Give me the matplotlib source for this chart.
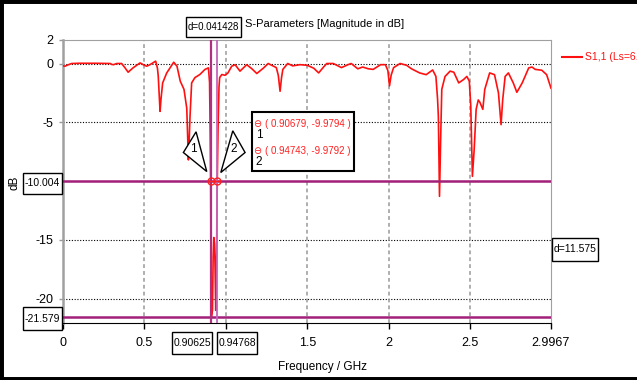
import numpy as np
import matplotlib.pyplot as plt
from matplotlib.patches import Polygon, Rectangle
from matplotlib.transforms import ScaledTranslation

plt.rcParams['font.family'] = ['Liberation Sans', 'DejaVu Sans']

# S1,1 trace (GHz, dB)
freq = [0.000, 0.012, 0.030, 0.053, 0.100, 0.200, 0.290, 0.300, 0.310, 0.330,
        0.360, 0.380, 0.400, 0.430, 0.473, 0.500, 0.514, 0.534, 0.569, 0.580,
        0.585, 0.592, 0.596, 0.602, 0.612, 0.637, 0.657, 0.680, 0.700, 0.720,
        0.743, 0.760, 0.765, 0.770, 0.775, 0.780, 0.790, 0.810, 0.840, 0.872,
        0.893, 0.900, 0.904, 0.9068, 0.9085, 0.911, 0.918, 0.922, 0.926, 0.930,
        0.933, 0.938, 0.943, 0.9474, 0.952, 0.958, 0.962, 0.975, 0.995, 1.013,
        1.036, 1.057, 1.087, 1.128, 1.160, 1.190, 1.230, 1.260, 1.310, 1.322,
        1.333, 1.342, 1.350, 1.380, 1.410, 1.455, 1.500, 1.540, 1.570, 1.600,
        1.620, 1.660, 1.710, 1.750, 1.770, 1.810, 1.840, 1.875, 1.905, 1.950,
        1.980, 1.995, 2.005, 2.015, 2.030, 2.070, 2.110, 2.140, 2.190, 2.230,
        2.270, 2.290, 2.300, 2.305, 2.312, 2.319, 2.326, 2.346, 2.377, 2.400,
        2.430, 2.460, 2.480, 2.495, 2.504, 2.514, 2.525, 2.537, 2.550, 2.560,
        2.578, 2.590, 2.620, 2.650, 2.674, 2.690, 2.700, 2.715, 2.735, 2.765,
        2.787, 2.820, 2.860, 2.880, 2.900, 2.940, 2.970, 2.9967]
s11 = [-0.20, -0.23, -0.12, 0.00, 0.02, 0.02, 0.00, -0.08, -0.10, 0.00,
       0.00, -0.35, -0.74, -0.37, 0.05, -0.15, -0.23, -0.10, 0.20, -0.40,
       -1.10, -3.00, -4.07, -3.00, -1.65, -0.80, -0.37, 0.11, -0.23, -1.50,
       -2.20, -3.80, -6.00, -8.20, -6.50, -4.50, -1.65, -1.20, -0.94, -0.50,
       -0.37, -1.60, -6.00, -10.00, -16.00, -21.58, -21.00, -16.50, -14.80, -15.30,
       -16.80, -21.00, -16.00, -10.00, -5.60, -2.00, -1.20, -0.94, -1.00, -0.80,
       -0.23, -0.10, -0.65, -0.10, -0.45, -0.85, -0.40, 0.00, -0.35, -1.00,
       -2.36, -1.20, -0.50, 0.00, -0.20, -0.10, -0.15, -0.40, -0.80, -0.30,
       0.00, 0.00, -0.35, -0.10, 0.00, -0.45, -0.30, -0.45, -0.50, -0.10,
       -0.10, -0.60, -1.90, -1.00, -0.35, 0.00, -0.15, -0.45, -0.80, -0.95,
       -0.55, -1.10, -3.00, -4.50, -11.30, -6.50, -2.20, -1.10, -0.65, -0.74,
       -1.65, -1.36, -1.10, -1.50, -3.60, -9.60, -7.30, -3.90, -3.10, -3.30,
       -3.90, -2.20, -0.80, -0.95, -2.50, -5.20, -3.10, -1.10, -0.80, -1.65,
       -2.45, -1.65, -0.37, -0.30, -0.50, -0.57, -0.95, -2.10]

xticks = [0, 0.5, 1, 1.5, 2, 2.5, 2.9967]
xlabels = ['0', '0.5', '', '1.5', '2', '2.5', '2.9967']
yticks = [2, 0, -5, -10, -15, -20]
ylabels = ['2', '0', '-5', '', '-15', '-20']

# markers
mk_x = [0.90625, 0.94768]
mk_y = [-10.004, -21.579]
pts_x = [0.90679, 0.94743]
pts_y = [-9.9794, -9.9792]

FS = 8.5


def fx(px):
    return px / 637


def fy(py):
    return 1 - py / 380


def label_box(x0, y0, x1, y1, txt, fs):
    # white box with black border, placed in figure pixels
    fig.add_artist(Rectangle((fx(x0), fy(y1)), (x1 - x0) / 637, (y1 - y0) / 380,
                             transform=fig.transFigure, fc='white', ec='black',
                             lw=1, zorder=9))
    fig.text(fx((x0 + x1) / 2), fy((y0 + y1) / 2), txt, ha='center', va='center',
             fontsize=fs, zorder=10)


fig = plt.figure(figsize=(6.37, 3.80), dpi=100)
ax = fig.add_axes([fx(63), fy(323.3), 488 / 637, (323.3 - 40) / 380])
ax.set_xlim(0, 2.9967)
ax.set_ylim(-22.1, 2)

# grid
for yv in yticks[1:]:
    ax.axhline(yv, color='black', lw=0.8, ls=(0, (1, 1.5)), zorder=1)
for xv in xticks[1:-1]:
    ax.axvline(xv, color='#999999', lw=1.1, ls=(0, (2.5, 2)), zorder=1)

ax.plot(freq, s11, color='#ff1010', lw=1.2, zorder=3)

# marker lines
ax.axhline(mk_y[0], color='#a3207a', lw=1.8, zorder=4)
ax.axhline(mk_y[1], color='#a3207a', lw=1.8, zorder=4)
ax.axvline(mk_x[0], color='#b0307f', lw=1.6, zorder=4)
ax.axvline(mk_x[1], color='#c466bd', lw=1.3, zorder=4)

# marker points
ax.plot(pts_x, pts_y, 'o', ms=5, mfc='none', mec='#ff2020', mew=1, zorder=6)
ax.plot(pts_x, pts_y, '_', ms=5, mec='#ff2020', mew=1, zorder=6)

# callout triangles
tri_offsets = [[(-0.146, 0.49), (-0.273, 0.283), (-0.039, 0.093)],
               [(0.155, 0.50), (0.278, 0.283), (0.035, 0.083)]]
lab_offsets = [(-0.173, 0.316), (0.168, 0.316)]
for i in range(2):
    tr = fig.dpi_scale_trans + ScaledTranslation(pts_x[i], pts_y[i], ax.transData)
    ax.add_patch(Polygon(tri_offsets[i], closed=True, fc='white', ec='black',
                         lw=1, transform=tr, clip_on=False, zorder=7))
    ax.text(lab_offsets[i][0], lab_offsets[i][1], str(i + 1), transform=tr,
            ha='center', va='center', fontsize=FS, zorder=8)

ax.set_xticks(xticks)
ax.set_xticklabels(xlabels)
ax.set_yticks(yticks)
ax.set_yticklabels(ylabels)
ax.tick_params(axis='x', length=4, width=1, pad=6, labelsize=FS + 0.5)
ax.tick_params(axis='y', length=3, width=1, pad=4, labelsize=FS + 0.5, color='#999999')
for s in ['left', 'top', 'right']:
    ax.spines[s].set_color('#a0a0a0')
ax.spines['left'].set_linewidth(1.8)
ax.spines['bottom'].set_color('black')

label_box(23, 173, 62, 194, '-10.004', 7.5)
label_box(23, 307, 62, 330, '-21.579', 7.5)
label_box(172, 332, 212, 354, '0.90625', 7.5)
label_box(217, 332, 257, 354, '0.94768', 7.5)
label_box(552, 238, 598, 261, 'd=11.575', 7.5)
label_box(186, 17, 241, 37, 'd=0.041428', 7)

# marker readout box
fig.add_artist(Rectangle((fx(252), fy(171)), 102 / 637, 59 / 380, transform=fig.transFigure,
                         fc='white', ec='black', lw=1.5, zorder=9))
for i, yy in enumerate([124, 151]):
    fig.text(fx(257.5), fy(yy), '\u2296', color='#ff2020', ha='center', va='center',
             fontsize=7, family='DejaVu Sans', zorder=10)
    fig.text(fx(259), fy(yy + 11), str(i + 1), ha='center', va='center', fontsize=FS, zorder=10)
    fig.text(fx(265), fy(yy), '( %.5f, %.4f )' % (pts_x[i], pts_y[i]), color='#ff2020',
             ha='left', va='center', fontsize=7, zorder=10)

# titles and labels
fig.text(fx(245), fy(24), 'S-Parameters [Magnitude in dB]', ha='left', va='center', fontsize=8)
fig.text(fx(322), fy(367), 'Frequency / GHz', ha='center', va='center', fontsize=FS)
fig.text(fx(15), fy(183), 'dB', ha='center', va='center', rotation=90, fontsize=FS)

# legend (cut at right edge, as in the source)
fig.add_artist(plt.Line2D([fx(562), fx(582)], [fy(56.5), fy(56.5)], color='#ff1010', lw=1.5))
fig.text(fx(585), fy(56.5), 'S1,1 (Ls=6.4', color='#ff1010', ha='left', va='center', fontsize=7.5)

# outer frame
fig.add_artist(Rectangle((0, 0), 1.05, 1, transform=fig.transFigure, fill=False,
                         ec='black', lw=5, zorder=20))

plt.savefig('out.png', dpi=100)
